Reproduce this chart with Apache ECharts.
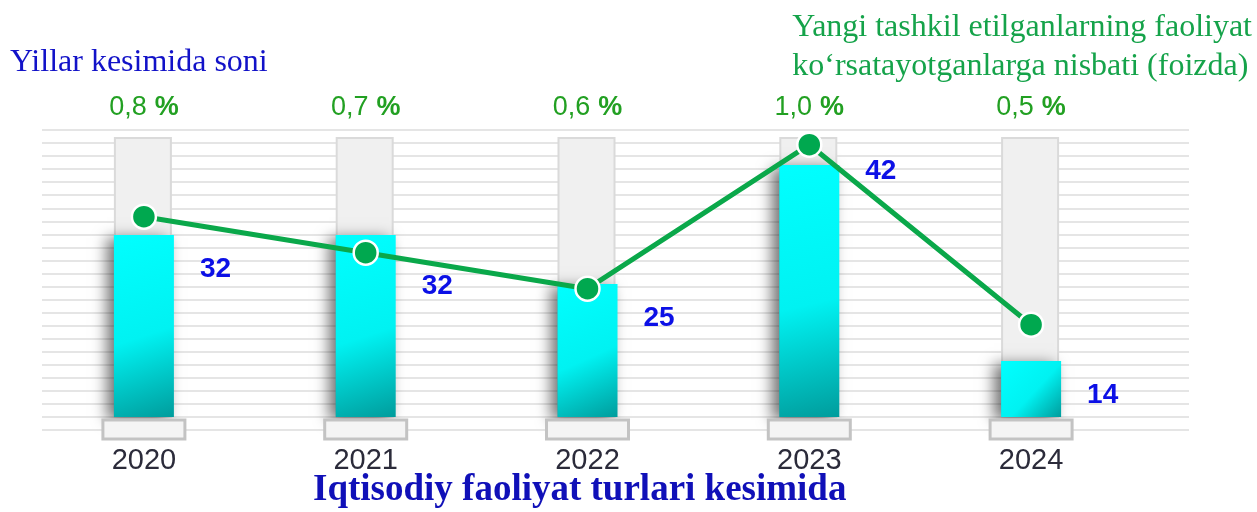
<!DOCTYPE html>
<html>
<head>
<meta charset="utf-8">
<script src="https://cdn.jsdelivr.net/npm/echarts@6/dist/echarts.min.js"></script>
<style>
  html, body { margin: 0; padding: 0; background: #ffffff; }
  #chart { width: 1257px; height: 512px; }
</style>
</head>
<body>
<div id="chart"></div>
<script>
// Years on the category axis
const years = ['2020', '2021', '2022', '2023', '2024'];
// Number of newly founded entities per year (bars)
const counts = [32, 32, 25, 42, 14];
// Share of newly founded among active ones, percent (line)
const shares = [0.8, 0.7, 0.6, 1.0, 0.5];

const COUNT_MIN = 6;
const COUNT_MAX = 46;

const SERIF = '"Liberation Serif", "Times New Roman", serif';
const SANS = '"Liberation Sans", Arial, sans-serif';

function pctText(v) {
  return v.toFixed(1).replace('.', ',');
}

const chart = echarts.init(document.getElementById('chart'), null, { renderer: 'canvas' });

// Pixel y of the share line at a given pixel x, between point i and i+1
function lineYAt(i, x) {
  if (i >= shares.length - 1) return null;
  const a = chart.convertToPixel({ xAxisIndex: 0, yAxisIndex: 1 }, [i, shares[i]]);
  const b = chart.convertToPixel({ xAxisIndex: 0, yAxisIndex: 1 }, [i + 1, shares[i + 1]]);
  return a[1] + (b[1] - a[1]) * (x - a[0]) / (b[0] - a[0]);
}

// Value label sits right of the bar, a little below its top;
// if that spot is crossed by the share line, it moves just above or below it.
function valueLabelLayout(p) {
  const r = p.rect, lr = p.labelRect;
  const x = r.x + 86;
  let y = r.y + 20;
  const h = lr.height, w = lr.width;
  const y1 = lineYAt(p.dataIndex, x);
  const y2 = lineYAt(p.dataIndex, x + w);
  if (y1 !== null) {
    const lo = Math.min(y1, y2) - 5, hi = Math.max(y1, y2) + 5;
    if (y < hi && y + h > lo) {
      y = (y + h / 2 < (lo + hi) / 2) ? lo - h : hi;
    }
  }
  return { x: x, y: y, align: 'left', verticalAlign: 'top' };
}

const option = {
  backgroundColor: '#ffffff',
  animation: false,
  grid: [
    { left: 33, right: 115, top: 137, height: 280 },      // bars + line
    { left: 33, right: 115, top: 418.5, height: 22 },     // pedestals + year labels
    { left: 42, right: 68, top: 130, height: 300 }        // horizontal rulings
  ],
  xAxis: [
    { gridIndex: 0, type: 'category', data: years, show: false },
    {
      gridIndex: 0, type: 'category', data: years, position: 'top',
      axisLine: { show: false }, axisTick: { show: false },
      axisLabel: {
        margin: 16,
        formatter: (val, idx) => '{n|' + pctText(shares[idx]) + '}{s| }{p|%}',
        rich: {
          n: { fontFamily: SANS, fontSize: 27, color: '#22a022' },
          s: { fontFamily: SANS, fontSize: 27, width: 8 },
          p: { fontFamily: SANS, fontSize: 27, fontWeight: 'bold', color: '#22a022' }
        }
      }
    },
    {
      gridIndex: 1, type: 'category', data: years,
      axisLine: { show: false }, axisTick: { show: false },
      axisLabel: { margin: 6, fontFamily: SANS, fontSize: 29, color: '#2b2b3a' }
    },
    { gridIndex: 2, type: 'value', min: 0, max: 1, show: false }
  ],
  yAxis: [
    { gridIndex: 0, type: 'value', min: COUNT_MIN, max: COUNT_MAX, show: false },
    { gridIndex: 0, type: 'value', min: 0.2436, max: 1.0214, show: false },
    { gridIndex: 1, type: 'value', min: 0, max: 1, show: false },
    {
      gridIndex: 2, type: 'value', min: 0, max: 23, interval: 1,
      axisLine: { show: false }, axisTick: { show: false }, axisLabel: { show: false },
      splitLine: { show: true, lineStyle: { color: '#dcdcdc', width: 1.5 } }
    }
  ],
  series: [
    {
      // grey track behind each bar
      type: 'bar', xAxisIndex: 0, yAxisIndex: 0,
      data: years.map(() => COUNT_MAX),
      barWidth: 58, barGap: '-100%',
      itemStyle: { color: '#f0f0f0', borderColor: '#dadada', borderWidth: 2 },
      silent: true, z: 1
    },
    {
      type: 'bar', xAxisIndex: 0, yAxisIndex: 0,
      data: counts,
      barWidth: 60, barGap: '-100%',
      itemStyle: {
        color: new echarts.graphic.LinearGradient(0, 0, 1, 1, [
          { offset: 0, color: '#00ffff' },
          { offset: 0.55, color: '#00f2f2' },
          { offset: 1, color: '#009c9c' }
        ]),
        shadowColor: 'rgba(0,0,0,0.55)', shadowBlur: 14, shadowOffsetX: -7, shadowOffsetY: 3
      },
      label: {
        show: true, position: 'right',
        fontFamily: SANS, fontSize: 28, fontWeight: 'bold', color: '#0c10e6',
        formatter: '{c}'
      },
      labelLayout: valueLabelLayout,
      z: 2
    },
    {
      type: 'line', xAxisIndex: 0, yAxisIndex: 1,
      data: shares,
      lineStyle: { color: '#0aa84a', width: 5 },
      symbol: 'circle', symbolSize: 24,
      itemStyle: { color: '#00a84f', borderColor: '#ffffff', borderWidth: 2.5 },
      z: 5
    },
    {
      // pedestal under every bar
      type: 'bar', xAxisIndex: 2, yAxisIndex: 2,
      data: years.map(() => 1),
      barWidth: 85,
      itemStyle: { color: '#f4f4f4', borderColor: '#c3c3c3', borderWidth: 3 },
      silent: true
    }
  ],
  graphic: [
    {
      type: 'text', left: 10, top: 47,
      style: { text: 'Yillar kesimida soni', font: '32px ' + SERIF, fill: '#1212c8' }
    },
    {
      type: 'text', right: 5, top: 8,
      style: {
        text: 'Yangi tashkil etilganlarning faoliyat\nko\u2018rsatayotganlarga nisbati (foizda)',
        font: '32px ' + SERIF, fill: '#15a34a', align: 'right', lineHeight: 39
      }
    },
    {
      type: 'text', left: 313, top: 472,
      style: {
        text: 'Iqtisodiy faoliyat turlari kesimida',
        font: 'bold 37px ' + SERIF, fill: '#1010b8'
      }
    }
  ]
};

chart.setOption(option);
</script>
</body>
</html>
